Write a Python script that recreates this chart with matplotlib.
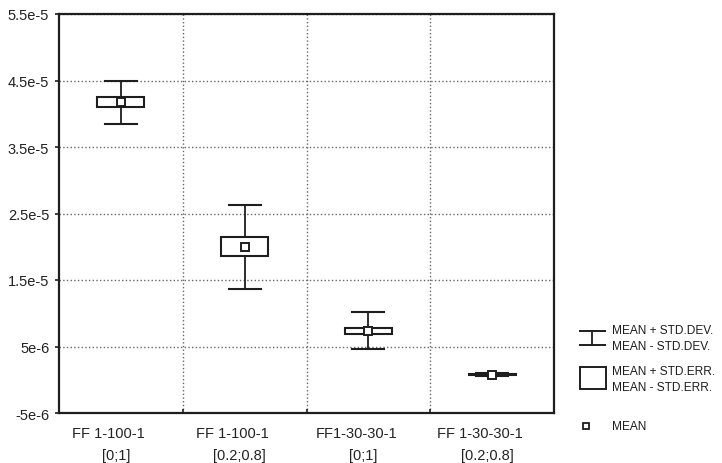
import numpy as np
import matplotlib
matplotlib.use("Agg")
from matplotlib import pyplot as plt
from matplotlib.patches import Rectangle
from matplotlib.transforms import ScaledTranslation

plt.rcParams['font.family'] = ['Liberation Sans', 'DejaVu Sans']

# data
groups = ["FF 1-100-1\n[0;1]", "FF 1-100-1\n[0.2;0.8]", "FF1-30-30-1\n[0;1]", "FF 1-30-30-1\n[0.2;0.8]"]
means = [4.17e-5, 2.00e-5, 7.35e-6, 7.6e-7]
std_dev = [3.2e-6, 6.3e-6, 2.8e-6, 2.5e-7]
std_err = [7.5e-7, 1.4e-6, 4.3e-7, 1.2e-7]
yticks = [-5e-6, 5e-6, 1.5e-5, 2.5e-5, 3.5e-5, 4.5e-5, 5.5e-5]
ytick_labels = ["-5e-6", "5e-6", "1.5e-5", "2.5e-5", "3.5e-5", "4.5e-5", "5.5e-5"]

W, H = 722, 464
fig = plt.figure(figsize=(W / 100, H / 100), dpi=100)
ax = fig.add_axes([59 / W, 1 - 414 / H, 495 / W, 399 / H])

x = np.arange(1, len(groups) + 1)
box_hw = 0.19
cap_hw = 0.13
col = '#1e1e1e'

for xi, m, sd, se in zip(x, means, std_dev, std_err):
    ax.plot([xi, xi], [m - sd, m + sd], color=col, lw=1.3, zorder=3)
    ax.plot([xi - cap_hw, xi + cap_hw], [m + sd, m + sd], color=col, lw=1.5, zorder=3)
    ax.plot([xi - cap_hw, xi + cap_hw], [m - sd, m - sd], color=col, lw=1.5, zorder=3)
    ax.add_patch(Rectangle((xi - box_hw, m - se), 2 * box_hw, 2 * se,
                           facecolor='white', edgecolor=col, lw=1.5, zorder=4))
    ax.plot([xi], [m], marker='s', ms=6, mfc='white', mec=col, mew=1.4, zorder=5)

ax.set_xlim(0.5, len(groups) + 0.5)
ax.set_ylim(-5e-6, 5.5e-5)
ax.set_yticks(yticks)
ax.set_yticklabels(ytick_labels, fontsize=10.5, color='#222222')
ax.set_xticks(x)
ax.set_xticklabels([])
ax.set_xticks(x[:-1] + 0.5, minor=True)
ax.tick_params(axis='x', which='major', length=0)
ax.tick_params(axis='x', which='minor', length=3, direction='in', width=1.2, color=col)
ax.tick_params(axis='y', length=3, width=1.2, color=col, pad=4)
ax.grid(True, axis='y', which='major', ls=':', lw=1.0, color='#666666')
ax.grid(True, axis='x', which='minor', ls=':', lw=1.0, color='#666666')
for s in ax.spines.values():
    s.set_linewidth(1.6)
    s.set_color(col)

# category labels, two lines each, first line sits a bit left like the original
base = ax.get_xaxis_transform()
for xi, lab in zip(x, groups):
    line1, line2 = lab.split("\n")
    ax.text(xi, 0, line1, transform=base + ScaledTranslation(-12 / 100, -20 / 100, fig.dpi_scale_trans),
            ha='center', va='center', fontsize=10.5, color='#222222')
    ax.text(xi, 0, line2, transform=base + ScaledTranslation(-5 / 100, -42 / 100, fig.dpi_scale_trans),
            ha='center', va='center', fontsize=10.5, color='#222222')

# legend drawn in pixel coordinates on its own axes
lg = fig.add_axes([0, 0, 1, 1], facecolor='none')
lg.set_xlim(0, W)
lg.set_ylim(H, 0)
lg.axis('off')
lg.plot([580, 605], [332, 332], color=col, lw=1.4)
lg.plot([580, 605], [345.5, 345.5], color=col, lw=1.4)
lg.plot([592, 592], [332, 345.5], color=col, lw=1.3)
lg.add_patch(Rectangle((580, 368), 26, 22, facecolor='white', edgecolor=col, lw=1.4))
lg.plot([586], [427], marker='s', ms=5, mfc='white', mec=col, mew=1.3)
leg_fs = 8.6
lg.text(612, 331, "MEAN + STD.DEV.", fontsize=leg_fs, va='center', color=col)
lg.text(612, 347, "MEAN - STD.DEV.", fontsize=leg_fs, va='center', color=col)
lg.text(612, 372, "MEAN + STD.ERR.", fontsize=leg_fs, va='center', color=col)
lg.text(612, 388, "MEAN - STD.ERR.", fontsize=leg_fs, va='center', color=col)
lg.text(612, 427, "MEAN", fontsize=leg_fs, va='center', color=col)

fig.savefig("out.png", dpi=100)
